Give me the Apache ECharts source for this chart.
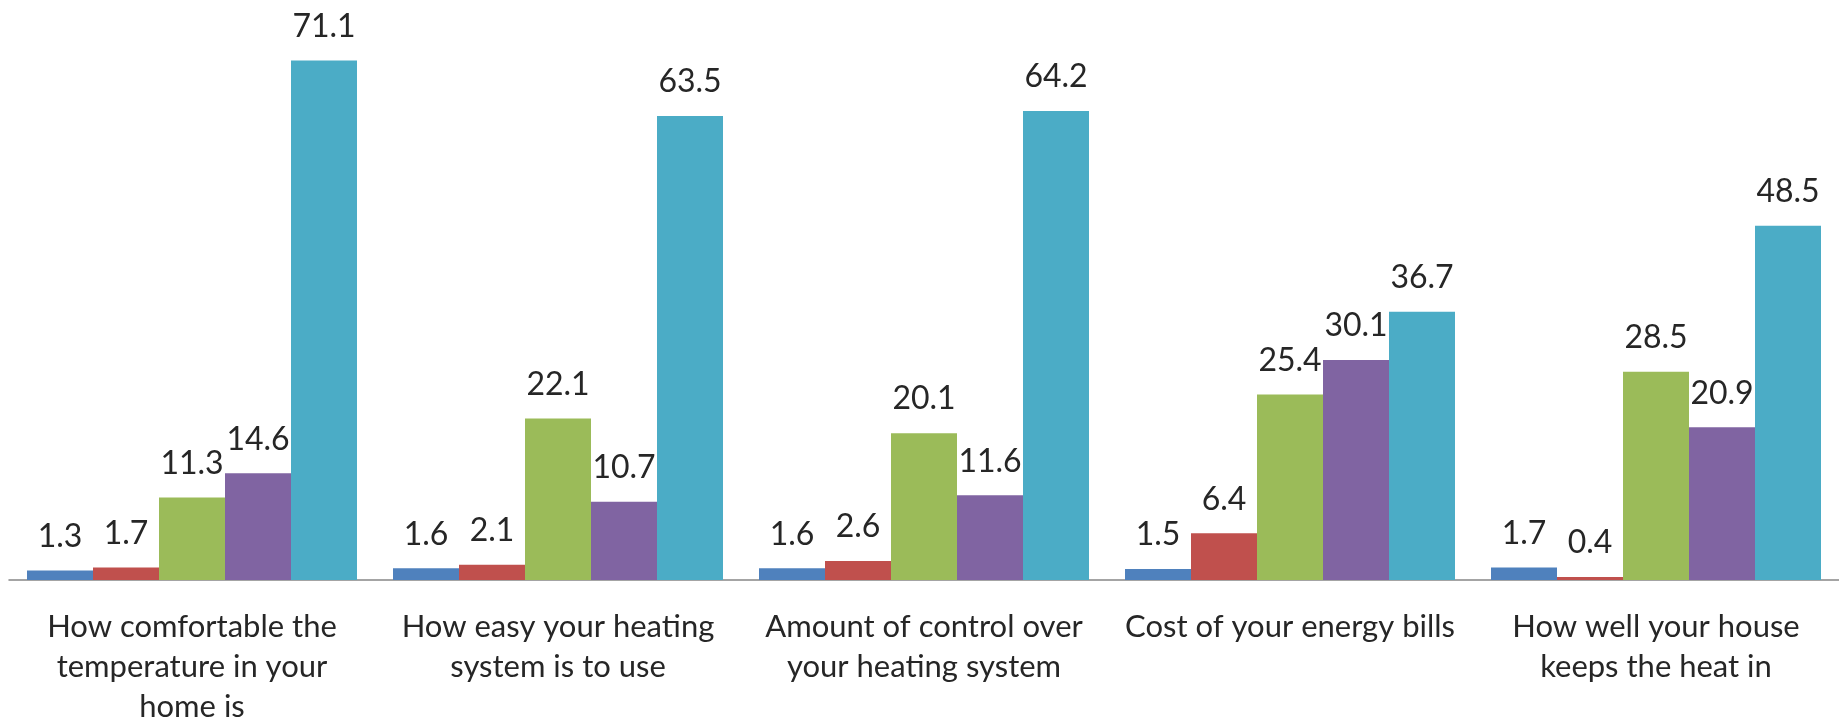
<!DOCTYPE html>
<html>
<head>
<meta charset="utf-8">
<script src="https://cdn.jsdelivr.net/npm/echarts@6/dist/echarts.min.js"></script>
<style>
  html, body { margin: 0; padding: 0; background: #fff; }
  #chart { width: 1839px; height: 721px; }
</style>
</head>
<body>
<div id="chart"></div>
<script>
// Satisfaction with aspects of home heating (%)
const categories = [
  'How comfortable the\ntemperature in your\nhome is',
  'How easy your heating\nsystem is to use',
  'Amount of control over\nyour heating system',
  'Cost of your energy bills',
  'How well your house\nkeeps the heat in'
];
const seriesA = [1.3, 1.6, 1.6, 1.5, 1.7];
const seriesB = [1.7, 2.1, 2.6, 6.4, 0.4];
const seriesC = [11.3, 22.1, 20.1, 25.4, 28.5];
const seriesD = [14.6, 10.7, 11.6, 30.1, 20.9];
const seriesE = [71.1, 63.5, 64.2, 36.7, 48.5];

const palette = ['#4F81BD', '#C0504D', '#9BBB59', '#8064A2', '#4BACC6'];
const textFont = 'Lato, "Open Sans", sans-serif';

function barSeries(data, color) {
  return {
    type: 'bar',
    data: data,
    barWidth: 66,
    barGap: '0%',
    itemStyle: { color: color },
    label: {
      show: true,
      position: 'top',
      distance: 18,
      color: '#262626',
      fontFamily: textFont,
      fontSize: 32,
      formatter: p => p.value.toFixed(1)
    },
    emphasis: { disabled: true }
  };
}

const chart = echarts.init(document.getElementById('chart'));
chart.setOption({
  animation: false,
  grid: { left: 9, right: 0, top: 32, bottom: 141, outerBoundsMode: 'none' },
  xAxis: {
    type: 'category',
    data: categories,
    axisTick: { show: false },
    axisLine: { lineStyle: { color: '#868686', width: 1.5 } },
    axisLabel: {
      interval: 0,
      margin: 27,
      color: '#262626',
      fontFamily: textFont,
      fontSize: 31,
      lineHeight: 40
    }
  },
  yAxis: {
    type: 'value',
    min: 0,
    max: 75,
    show: false,
    splitLine: { show: false }
  },
  series: [
    barSeries(seriesA, palette[0]),
    barSeries(seriesB, palette[1]),
    barSeries(seriesC, palette[2]),
    barSeries(seriesD, palette[3]),
    barSeries(seriesE, palette[4])
  ]
});
</script>
</body>
</html>
